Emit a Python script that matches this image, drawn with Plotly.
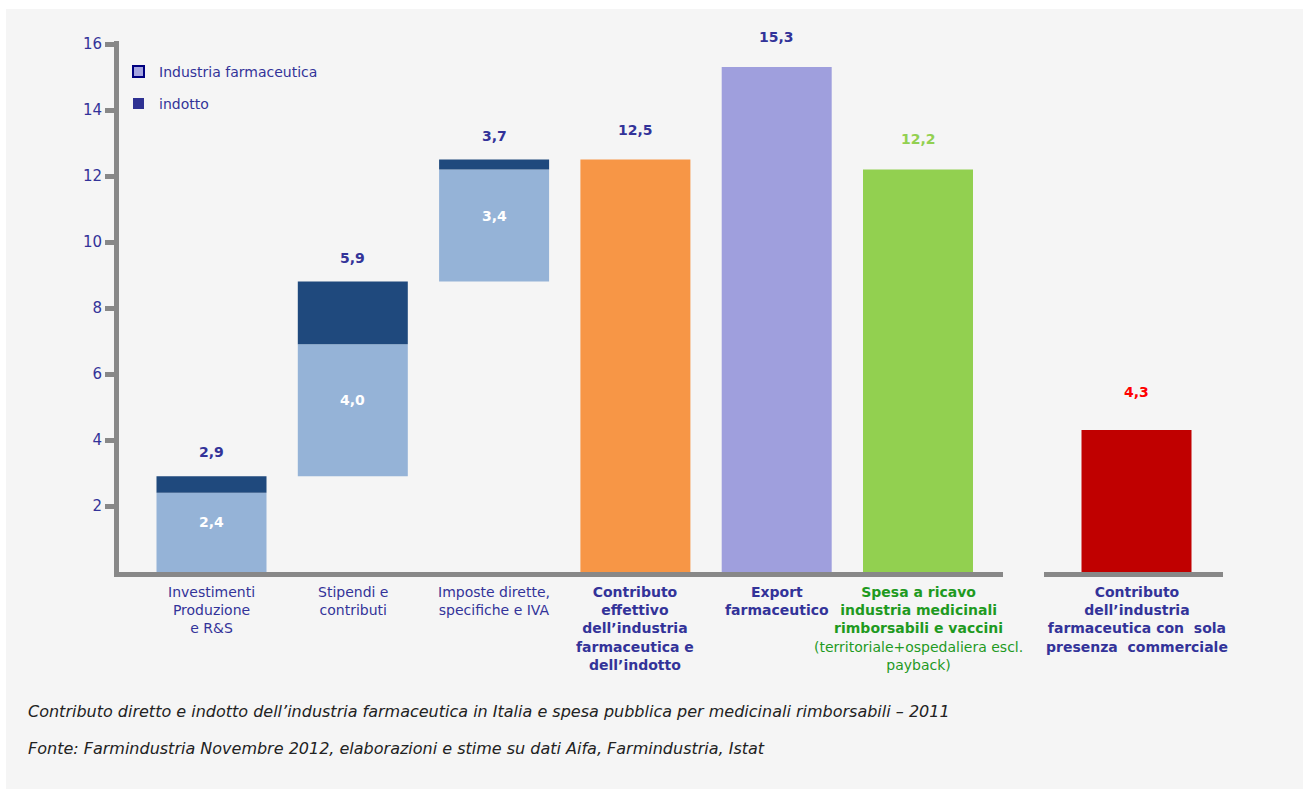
import plotly.graph_objects as go

# ---------------- data (miliardi di euro, 2011) ----------------
stack_categories = [
    "Investimenti Produzione e R&S",
    "Stipendi e contributi",
    "Imposte dirette, specifiche e IVA",
]
industria_farmaceutica = [2.4, 4.0, 3.4]
indotto = [0.5, 1.9, 0.3]

summary_categories = [
    "Contributo effettivo dell'industria farmaceutica e dell'indotto",
    "Export farmaceutico",
    "Spesa a ricavo industria medicinali rimborsabili e vaccini",
]
summary_values = [12.5, 15.3, 12.2]

commercial_category = ["Contributo dell'industria farmaceutica con sola presenza commerciale"]
commercial_values = [4.3]

category_labels = [
    "Investimenti<br>Produzione<br>e R&S",
    "Stipendi e<br>contributi",
    "Imposte dirette,<br>specifiche e IVA",
    "<b>Contributo<br>effettivo<br>dell’industria<br>farmaceutica e<br>dell’indotto</b>",
    "<b>Export<br>farmaceutico</b>",
    "<b>Spesa a ricavo<br>industria medicinali<br>rimborsabili e vaccini</b><br>(territoriale+ospedaliera escl.<br>payback)",
    "<b>Contributo<br>dell’industria<br>farmaceutica con  sola<br>presenza  commerciale</b>",
]
y_ticks = [2, 4, 6, 8, 10, 12, 14, 16]

caption_lines = [
    "Contributo diretto e indotto dell’industria farmaceutica in Italia e spesa pubblica per medicinali rimborsabili – 2011",
    "Fonte: Farmindustria Novembre 2012, elaborazioni e stime su dati Aifa, Farmindustria, Istat",
]

# ---------------- style ----------------
FONT = "DejaVu Sans"
BLUE_TXT = "#333399"
GREEN_TXT = "#1f9a1f"
AXIS_GREY = "#888888"
C_LIGHT = "#95b3d7"
C_DARK = "#1f497d"
summary_colors = ["#f79646", "#9f9fdd", "#92d050"]
summary_value_colors = [BLUE_TXT, BLUE_TXT, "#92d050"]
C_RED = "#c00000"

W, H = 1303, 789
L, R, T, B = 119, 80, 41, 217
PW, PH = W - L - R, H - T - B
PX_PER_UNIT = 33.0


def px_x(p):
    return (p - L) / PW


def px_y(p):
    return (H - B - p) / PH


def fmt(v):
    return f"{v:.1f}".replace(".", ",")


# axis geometry (pixels)
band = 141.3
ax1_left, ax1_right, first_center = 119, 1003, 211.5
ax2_left, ax2_right, ax2_center = 1044, 1223, 1136.5
bar_w = 110 / band

# floating bases of the stacked steps
totals = [round(a + b, 1) for a, b in zip(industria_farmaceutica, indotto)]
bases = []
running = 0.0
for t in totals:
    bases.append(round(running, 1))
    running += t
dark_bases = [round(b + v, 1) for b, v in zip(bases, industria_farmaceutica)]

fig = go.Figure()

fig.add_trace(go.Bar(
    x=stack_categories, y=industria_farmaceutica, base=bases,
    marker=dict(color=C_LIGHT, line=dict(width=0)), width=bar_w,
    xaxis="x", yaxis="y", showlegend=False, hoverinfo="skip",
))
fig.add_trace(go.Bar(
    x=stack_categories, y=indotto, base=dark_bases,
    marker=dict(color=C_DARK, line=dict(width=0)), width=bar_w,
    xaxis="x", yaxis="y", showlegend=False, hoverinfo="skip",
))
fig.add_trace(go.Bar(
    x=summary_categories, y=summary_values,
    marker=dict(color=summary_colors, line=dict(width=0)), width=bar_w,
    xaxis="x", yaxis="y", showlegend=False, hoverinfo="skip",
))
fig.add_trace(go.Bar(
    x=commercial_category, y=commercial_values,
    marker=dict(color=C_RED, line=dict(width=0)), width=bar_w,
    xaxis="x2", yaxis="y", showlegend=False, hoverinfo="skip",
))

annotations = []

# totals above the stacked steps and inner values
for cat, b, v, t in zip(stack_categories, bases, industria_farmaceutica, totals):
    annotations.append(dict(
        x=cat, y=b + t, xref="x", yref="y", text=f"<b>{fmt(t)}</b>",
        showarrow=False, yshift=24, yanchor="middle",
        font=dict(family=FONT, size=14, color=BLUE_TXT)))
    annotations.append(dict(
        x=cat, y=b + v / 2, xref="x", yref="y", text=f"<b>{fmt(v)}</b>",
        showarrow=False, yshift=10, yanchor="middle",
        font=dict(family=FONT, size=14, color="white")))

for cat, v, c in zip(summary_categories, summary_values, summary_value_colors):
    annotations.append(dict(
        x=cat, y=v, xref="x", yref="y", text=f"<b>{fmt(v)}</b>",
        showarrow=False, yshift=30, yanchor="middle",
        font=dict(family=FONT, size=14, color=c)))

annotations.append(dict(
    x=commercial_category[0], y=commercial_values[0], xref="x2", yref="y",
    text=f"<b>{fmt(commercial_values[0])}</b>", showarrow=False, yshift=38,
    yanchor="middle", font=dict(family=FONT, size=14, color="#ff0000")))

# category labels below the axis
all_cats = stack_categories + summary_categories + commercial_category
label_colors = [BLUE_TXT] * 5 + [GREEN_TXT, BLUE_TXT]
label_axes = ["x"] * 6 + ["x2"]
for cat, lab, col, ax in zip(all_cats, category_labels, label_colors, label_axes):
    annotations.append(dict(
        x=cat, y=px_y(582), xref=ax, yref="paper", text=lab, showarrow=False,
        yanchor="top", align="center",
        font=dict(family=FONT, size=14, color=col)))

# legend
legend_items = [("Industria farmaceutica", 72), ("indotto", 104)]
for name, yc in legend_items:
    annotations.append(dict(
        x=px_x(157), y=px_y(yc), xref="paper", yref="paper", text=name,
        showarrow=False, xanchor="left", yanchor="middle",
        font=dict(family=FONT, size=14, color=BLUE_TXT)))

# caption
for line, yc in zip(caption_lines, [711, 748]):
    annotations.append(dict(
        x=px_x(26), y=px_y(yc), xref="paper", yref="paper", text=f"<i>{line}</i>",
        showarrow=False, xanchor="left", yanchor="middle",
        font=dict(family=FONT, size=16, color="#222222")))

shapes = [
    dict(type="rect", xref="paper", yref="paper", layer="below",
         x0=px_x(6), x1=px_x(1303), y0=px_y(789), y1=px_y(9),
         fillcolor="#f5f5f5", line=dict(width=0)),
    dict(type="rect", xref="paper", yref="paper",
         x0=px_x(133), x1=px_x(144), y0=px_y(77), y1=px_y(66),
         fillcolor="#a5a5e0", line=dict(color="#000080", width=2)),
    dict(type="rect", xref="paper", yref="paper",
         x0=px_x(133), x1=px_x(144), y0=px_y(109), y1=px_y(98),
         fillcolor="#2e3192", line=dict(width=0)),
]

axis_common = dict(
    type="category", showgrid=False, zeroline=False, showticklabels=False,
    ticks="", showline=True, linecolor=AXIS_GREY, linewidth=5,
    fixedrange=True,
)

fig.update_layout(
    width=W, height=H,
    margin=dict(l=L, r=R, t=T, b=B, pad=0),
    paper_bgcolor="white", plot_bgcolor="rgba(0,0,0,0)",
    barmode="overlay", showlegend=False,
    font=dict(family=FONT, color=BLUE_TXT),
    xaxis=dict(
        domain=[px_x(ax1_left), px_x(ax1_right)], anchor="y",
        range=[-(first_center - ax1_left) / band, (ax1_right - first_center) / band],
        categoryorder="array", categoryarray=stack_categories + summary_categories,
        **axis_common),
    xaxis2=dict(
        domain=[px_x(ax2_left), px_x(ax2_right)], anchor="y",
        range=[-(ax2_center - ax2_left) / band, (ax2_right - ax2_center) / band],
        **axis_common),
    yaxis=dict(
        range=[0, PH / PX_PER_UNIT], anchor="x", tickmode="array",
        tickvals=y_ticks, ticktext=[str(v) for v in y_ticks],
        showgrid=False, zeroline=False, showline=True,
        linecolor=AXIS_GREY, linewidth=5, ticks="outside", ticklen=9,
        tickwidth=5, tickcolor=AXIS_GREY,
        tickfont=dict(family=FONT, size=15, color=BLUE_TXT),
        fixedrange=True,
    ),
    annotations=annotations, shapes=shapes,
)

fig.write_html("out.html")
